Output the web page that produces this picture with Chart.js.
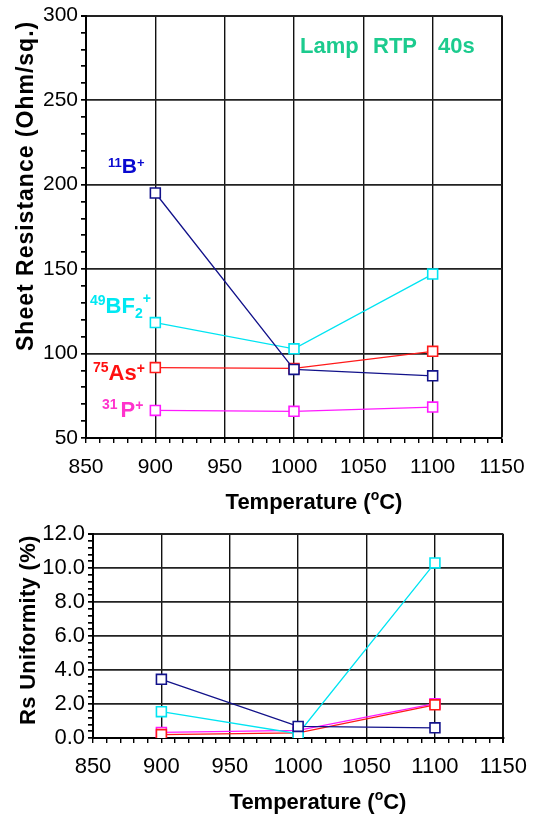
<!DOCTYPE html>
<html>
<head>
<meta charset="utf-8">
<script src="https://cdn.jsdelivr.net/npm/chart.js"></script>
<style>
  body { margin: 0; background: #fff; width: 538px; height: 819px; overflow: hidden; }
  canvas { position: absolute; left: 0; }
  #rs { top: 0; }
  #uni { top: 515px; }
</style>
</head>
<body>
<canvas id="rs" width="538" height="515"></canvas>
<canvas id="uni" width="538" height="304"></canvas>
<script>
// Anneal temperatures (deg C)
const temps = [900, 1000, 1100];

// Sheet resistance (Ohm/sq.)
const rsB   = [195, 90.6, 86.8];
const rsBF2 = [118.3, 102.8, 147];
const rsAs  = [91.7, 91.2, 101.3];
const rsP   = [66.3, 65.8, 68.3];

// Rs uniformity (%)
const uniB   = [3.45, 0.68, 0.6];
const uniBF2 = [1.55, 0.25, 10.3];
const uniAs  = [0.2, 0.3, 1.95];
const uniP   = [0.33, 0.45, 2.02];

const species = ['11B+', '49BF2+', '75As+', '31P+'];
const lineColors = ['#12128a', '#00e4f2', '#ff1a1a', '#ff19ff'];

const FONT = '"Liberation Sans", Arial, Helvetica, sans-serif';

function points(ys) {
    return temps.map((t, i) => ({ x: t, y: ys[i] }));
}

function makeDatasets(series) {
    return series.map((ys, i) => ({
        label: species[i],
        data: points(ys),
        borderColor: lineColors[i],
        borderWidth: 1.3,
        pointStyle: 'rect',
        pointRadius: 7,
        pointBorderWidth: 1.6,
        pointBorderColor: lineColors[i],
        pointBackgroundColor: '#fff',
        tension: 0
    }));
}

// draws bold text pieces one after another (for super/subscripts)
function drawParts(ctx, x, y, parts, color) {
    ctx.save();
    ctx.fillStyle = color;
    ctx.textBaseline = 'alphabetic';
    ctx.textAlign = 'left';
    parts.forEach(p => {
        ctx.font = (p.weight || 'bold') + ' ' + p.size + 'px ' + FONT;
        ctx.fillText(p.text, x, y + (p.dy || 0));
        x += ctx.measureText(p.text).width + (p.gap || 0);
    });
    ctx.restore();
}

function drawVertical(ctx, x, y, text, size, spacing) {
    ctx.save();
    ctx.translate(x, y);
    ctx.rotate(-Math.PI / 2);
    ctx.fillStyle = '#000';
    ctx.font = 'bold ' + size + 'px ' + FONT;
    ctx.letterSpacing = (spacing || 0) + 'px';
    ctx.textAlign = 'left';
    ctx.textBaseline = 'alphabetic';
    ctx.fillText(text, 0, 0);
    ctx.restore();
}

function tempTitle(ctx, cx, y) {
    const parts = [
        { text: 'Temperature (', size: 22 },
        { text: 'o', size: 14, dy: -9 },
        { text: 'C)', size: 22 }
    ];
    ctx.save();
    let w = 0;
    parts.forEach(p => { ctx.font = 'bold ' + p.size + 'px ' + FONT; w += ctx.measureText(p.text).width; });
    ctx.restore();
    drawParts(ctx, cx - w / 2, y, parts, '#000');
}

function tickRange(min, max, step) {
    const out = [];
    const n = Math.round((max - min) / step);
    for (let i = 0; i <= n; i++) out.push({ value: +(min + i * step).toFixed(4) });
    return out;
}

function isMajor(v, major) {
    return Math.abs(v / major - Math.round(v / major)) < 1e-6;
}

function axes(o) {
    return {
        x: {
            type: 'linear', min: 850, max: 1150,
            afterBuildTicks: s => { s.ticks = tickRange(850, 1150, 10); },
            afterFit: s => { s.height = o.xHeight; },
            border: { color: '#000', width: 2 },
            grid: {
                color: c => c.tick && isMajor(c.tick.value, 50) ? '#111' : 'rgba(0,0,0,0)',
                lineWidth: c => c.tick && c.tick.value === 1150 ? 2 : 1.4,
                tickColor: '#000',
                tickLength: 5
            },
            ticks: {
                autoSkip: false, maxRotation: 0, padding: o.xPad, color: '#000',
                font: { family: FONT, size: o.tickSize },
                callback: v => isMajor(v, 50) ? String(v) : ''
            }
        },
        y: {
            type: 'linear', min: o.yMin, max: o.yMax,
            afterBuildTicks: s => { s.ticks = tickRange(o.yMin, o.yMax, o.yMinor); },
            afterFit: s => { s.width = o.yWidth; },
            border: { color: '#000', width: 2 },
            grid: {
                color: c => c.tick && isMajor(c.tick.value, o.yMajor) ? '#222' : 'rgba(0,0,0,0)',
                lineWidth: c => c.tick && c.tick.value === o.yMax ? 2 : 1.7,
                tickColor: '#000',
                tickLength: 5
            },
            ticks: {
                autoSkip: false, padding: 3, color: '#000',
                font: { family: FONT, size: o.tickSize },
                callback: v => isMajor(v, o.yMajor) ? o.fmt(v) : ''
            }
        }
    };
}

// labels of the top panel
const rsLabels = {
    id: 'rsLabels',
    afterDraw(chart) {
        const ctx = chart.ctx;
        const xs = chart.scales.x, ys = chart.scales.y;
        const px = v => xs.getPixelForValue(v), py = v => ys.getPixelForValue(v);

        drawParts(ctx, px(865.9), py(206.8), [
            { text: '11', size: 13, dy: -6 }, { text: 'B', size: 21 }, { text: '+', size: 13, dy: -6 }
        ], '#0a0ad0');
        drawParts(ctx, px(852.9), py(124.2), [
            { text: '49', size: 14, dy: -8 }, { text: 'BF', size: 22 }, { text: '2', size: 14, dy: 5 }, { text: '+', size: 14, dy: -10 }
        ], '#00e8f2');
        drawParts(ctx, px(855), py(84.1), [
            { text: '75', size: 14, dy: -8 }, { text: 'As', size: 22 }, { text: '+', size: 14, dy: -7 }
        ], '#ff1010');
        drawParts(ctx, px(861.5), py(62.4), [
            { text: '31', size: 14, dy: -8, gap: 3 }, { text: 'P', size: 22 }, { text: '+', size: 14, dy: -7 }
        ], '#ff33cc');

        const green = '#1ccb8e';
        drawParts(ctx, px(1004.3), py(277.6), [{ text: 'Lamp', size: 22 }], green);
        drawParts(ctx, px(1057), py(277.6), [{ text: 'RTP', size: 22 }], green);
        drawParts(ctx, px(1103.9), py(277.6), [{ text: '40s', size: 22 }], green);

        drawVertical(ctx, 33, 351, 'Sheet Resistance (Ohm/sq.)', 23, 1);
        tempTitle(ctx, 314, 509);
    }
};

const uniLabels = {
    id: 'uniLabels',
    afterDraw(chart) {
        const ctx = chart.ctx;
        drawVertical(ctx, 35, 725 - 515, 'Rs Uniformity (%)', 22, 0.3);
        tempTitle(ctx, 318, 809 - 515);
    }
};

new Chart(document.getElementById('rs'), {
    type: 'line',
    data: { datasets: makeDatasets([rsB, rsBF2, rsAs, rsP]) },
    options: {
        responsive: false, animation: false,
        layout: { padding: { left: 0, top: 14, right: 36, bottom: 0 } },
        plugins: { legend: { display: false }, tooltip: { enabled: false } },
        scales: axes({
            yMin: 50, yMax: 300, yMinor: 10, yMajor: 50, yWidth: 86, xHeight: 77,
            xPad: 12, tickSize: 21, fmt: v => String(v)
        })
    },
    plugins: [rsLabels]
});

new Chart(document.getElementById('uni'), {
    type: 'line',
    data: { datasets: makeDatasets([uniB, uniBF2, uniAs, uniP]) },
    options: {
        responsive: false, animation: false,
        layout: { padding: { left: 0, top: 19, right: 34, bottom: 0 } },
        plugins: { legend: { display: false }, tooltip: { enabled: false } },
        scales: axes({
            yMin: 0, yMax: 12, yMinor: 0.4, yMajor: 2, yWidth: 93, xHeight: 81,
            xPad: 11, tickSize: 22, fmt: v => v.toFixed(1)
        })
    },
    plugins: [uniLabels]
});
</script>
</body>
</html>
